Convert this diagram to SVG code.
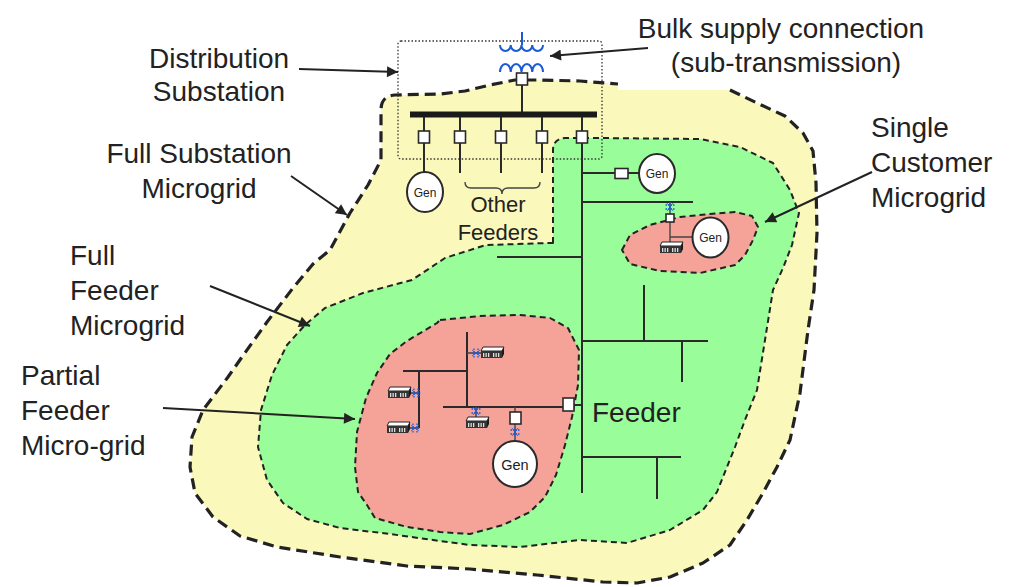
<svg xmlns="http://www.w3.org/2000/svg" xmlns:xlink="http://www.w3.org/1999/xlink" width="1027" height="587" viewBox="0 0 1027 587">
<style>
.lbl{font-family:"Liberation Sans",Arial,sans-serif;font-size:28px;fill:#222}
.sm{font-size:22px}
.mid{text-anchor:middle}
.gen{font-family:"Liberation Sans",Arial,sans-serif;fill:#222;text-anchor:middle}
.w{fill:none;stroke:#2a2a2a;stroke-width:2}
.thin{fill:none;stroke:#444;stroke-width:1.4}
.box{fill:#fff;stroke:#2a2a2a;stroke-width:1.6}
.circ{fill:#fff;stroke:#2a2a2a;stroke-width:2}
.arr{fill:none;stroke:#222;stroke-width:2;marker-end:url(#ah)}
.blue{fill:none;stroke:#1a5ad6;stroke-width:2}
</style>
<defs>
<marker id="ah" viewBox="0 0 10 10" refX="10" refY="5" markerWidth="15" markerHeight="11" markerUnits="userSpaceOnUse" orient="auto">
<path d="M0,0 L10,5 L0,10 Z" fill="#222"/>
</marker>
<g id="bldg">
<path d="M3,0 H24 L22,4 H1 Z" fill="#fff" stroke="#222" stroke-width="1"/>
<rect x="1" y="4" width="21" height="7" fill="#333"/>
<path d="M22,4 L24,0 V7 L22,11 Z" fill="#1a1a1a"/>
<g fill="#ddd"><rect x="3" y="6" width="1.3" height="4"/><rect x="5.5" y="6" width="1.3" height="4"/><rect x="8" y="6" width="1.3" height="4"/><rect x="13" y="6" width="1.3" height="4"/><rect x="15.5" y="6" width="1.3" height="4"/><rect x="18" y="6" width="1.3" height="4"/></g>
</g>
<g id="xf" fill="none" stroke="#1a5ad6" stroke-width="1.3">
<path d="M-4.5,-2 H4.5 M-4.5,2 H4.5" stroke-dasharray="1.5 1"/>
<path d="M0,-4.5 V4.5 M-3,-4 L3,4 M3,-4 L-3,4" stroke-width="0.8"/>
</g>
</defs>

<g id="full-substation-microgrid">
<path d="M730,90 L757,103 785,116 803,133 813,151 816,183 817,233 814,290 808,330 800,393 790,440 777,467 763,493 747,520 730,545 703,563 670,577 637,583 603,582 537,575 470,569 407,566 340,557 277,547 240,536 213,517 195,493 190,467 192,437 203,410 228,377 242,357 267,322 293,288 313,264 330,250 350,213 368,185 381,160 381,110 Q381,96 395,95 L440,94 465,91 490,85 515,80 540,80 580,81 618,84 618,90 Z" fill="#faf8bb"/>
<path d="M730,90 L757,103 785,116 803,133 813,151 816,183 817,233 814,290 808,330 800,393 790,440 777,467 763,493 747,520 730,545 703,563 670,577 637,583 603,582 537,575 470,569 407,566 340,557 277,547 240,536 213,517 195,493 190,467 192,437 203,410 228,377 242,357 267,322 293,288 313,264 330,250 350,213 368,185 381,160 381,110 Q381,96 395,95 L440,94 465,91 490,85 515,80 540,80 580,81 618,84" fill="none" stroke="#222" stroke-width="3.2" stroke-dasharray="11 6" stroke-linejoin="round"/>
</g>

<g id="full-feeder-microgrid">
<path d="M553,243 L553,150 Q553,139 565,138 L600,138 700,139 740,147 773,163 790,190 799,213 792,245 783,268 773,290 765,340 757,390 745,420 735,447 727,467 717,492 703,510 670,530 627,543 580,540 520,547 470,545 440,541 390,534 340,528 307,519 283,503 267,480 258,447 261,410 272,375 287,345 305,325 325,308 363,293 412,280 445,258 486,245 549,243 Z" fill="#99fd99" stroke="#222" stroke-width="2" stroke-dasharray="6 4" stroke-linejoin="round"/>
</g>

<g id="partial-feeder-microgrid">
<path d="M440,320 L480,316 520,315 550,318 568,328 579,350 578,385 572,417 565,445 556,475 545,497 530,512 503,525 470,534 440,532 407,527 375,518 367,505 358,492 355,467 357,432 366,398 377,373 390,354 407,341 437,323 Z" fill="#f5a399" stroke="#222" stroke-width="2" stroke-dasharray="6 4" stroke-linejoin="round"/>
</g>

<g id="single-customer-microgrid">
<path d="M622,250 L630,235 650,225 680,217 710,214 735,212 752,216 758,227 753,240 745,255 735,265 700,273 660,271 630,264 Z" fill="#f5a399" stroke="#222" stroke-width="2" stroke-dasharray="6 4" stroke-linejoin="round"/>
</g>

<g id="distribution-substation">
<rect x="398" y="41" width="204" height="118" rx="3" fill="none" stroke="#333" stroke-width="1.3" stroke-dasharray="1.5 2"/>
<path class="blue" d="M522,32 V45"/>
<path class="blue" d="M500,45 a5.375,6 0 0 0 10.75,0 a5.375,6 0 0 0 10.75,0 a5.375,6 0 0 0 10.75,0 a5.375,6 0 0 0 10.75,0"/>
<path class="blue" d="M500,72 a5.375,8 0 0 1 10.75,0 a5.375,8 0 0 1 10.75,0 a5.375,8 0 0 1 10.75,0 a5.375,8 0 0 1 10.75,0"/>
<path class="w" d="M522,85 V113"/>
<rect class="box" x="516.5" y="73" width="11" height="12"/>
<rect x="410" y="111.5" width="187" height="6" fill="#1a1a1a"/>
<path class="w" d="M424,117 V172 M460,117 V173 M501,117 V173 M542,117 V173"/>
<rect class="box" x="418.5" y="131" width="11" height="12"/>
<rect class="box" x="454.5" y="131" width="11" height="12"/>
<rect class="box" x="495.5" y="131" width="11" height="12"/>
<rect class="box" x="536.5" y="131" width="11" height="12"/>
</g>

<g id="substation-gen">
<ellipse class="circ" cx="425" cy="192" rx="18" ry="20"/>
<text class="gen" x="425" y="196.5" font-size="12">Gen</text>
</g>

<g id="other-feeders">
<path class="thin" d="M465,182 Q465,188 471,188 L496,188 Q502,188 502,194 Q502,188 508,188 L534,188 Q540,188 540,182" stroke="#333" stroke-width="1.6"/>
<text class="lbl sm mid" x="498" y="212">Other</text>
<text class="lbl sm mid" x="498" y="240">Feeders</text>
</g>

<g id="feeder">
<path class="w" d="M582,117 V493"/>
<rect class="box" x="576.5" y="131" width="11" height="12"/>
<path class="w" d="M583,173 H639"/>
<rect class="box" x="615" y="168.5" width="13" height="10"/>
<ellipse class="circ" cx="657" cy="173.5" rx="18" ry="19.5"/>
<text class="gen" x="657" y="178" font-size="12">Gen</text>
<path class="w" d="M583,202 H693"/>
<path class="w" d="M497,257 H583"/>
<path class="w" d="M583,341 H708 M644,285 V341 M682,341 V382"/>
<path class="w" d="M583,457 H681 M657,457 V499"/>
<path class="w" d="M568,405 H583"/>
<text class="lbl" x="592" y="422">Feeder</text>
</g>

<g id="single-customer">
<path class="thin" d="M670,202 V244 M670,237 H693"/>
<use xlink:href="#xf" href="#xf" transform="translate(670,207)"/>
<rect class="box" x="666" y="214" width="8" height="8" stroke-width="1.2"/>
<use xlink:href="#bldg" href="#bldg" transform="translate(659,242)"/>
<ellipse class="circ" cx="710.5" cy="237.5" rx="18" ry="20"/>
<text class="gen" x="710.5" y="242" font-size="12">Gen</text>
</g>

<g id="partial-feeder">
<path class="w" d="M443,407 H568 M467,332 V407 M403,371 H467 M419,371 V428"/>
<rect class="box" x="563" y="398" width="11" height="13"/>
<path class="thin" d="M467,353 H481 M410,393 H419 M410,428 H419 M476,407 V418 M515,407 V441"/>
<use xlink:href="#xf" href="#xf" transform="translate(476,353) rotate(90)"/>
<use xlink:href="#xf" href="#xf" transform="translate(416,393) rotate(90)"/>
<use xlink:href="#xf" href="#xf" transform="translate(415,428) rotate(90)"/>
<use xlink:href="#xf" href="#xf" transform="translate(476,411)"/>
<use xlink:href="#bldg" href="#bldg" transform="translate(480,347)"/>
<use xlink:href="#bldg" href="#bldg" transform="translate(387,387)"/>
<use xlink:href="#bldg" href="#bldg" transform="translate(386,422)"/>
<use xlink:href="#bldg" href="#bldg" transform="translate(465,417)"/>
<rect class="box" x="510" y="412" width="11" height="12"/>
<use xlink:href="#xf" href="#xf" transform="translate(515,432)"/>
<ellipse class="circ" cx="515" cy="464" rx="22" ry="23"/>
<text class="gen" x="515" y="469.5" font-size="14.5">Gen</text>
</g>

<g id="labels">
<text class="lbl mid" x="219" y="68">Distribution</text>
<text class="lbl mid" x="219" y="101">Substation</text>
<text class="lbl mid" x="199" y="163">Full Substation</text>
<text class="lbl mid" x="199" y="198">Microgrid</text>
<text class="lbl" x="70" y="265">Full</text>
<text class="lbl" x="70" y="300">Feeder</text>
<text class="lbl" x="70" y="335">Microgrid</text>
<text class="lbl" x="21" y="385">Partial</text>
<text class="lbl" x="21" y="420">Feeder</text>
<text class="lbl" x="21" y="455">Micro-grid</text>
<text class="lbl mid" x="781" y="38">Bulk supply connection</text>
<text class="lbl mid" x="786" y="72">(sub-transmission)</text>
<text class="lbl" x="871" y="137">Single</text>
<text class="lbl" x="871" y="172">Customer</text>
<text class="lbl" x="871" y="207">Microgrid</text>
</g>

<g id="connectors">
<path class="arr" d="M299,69 L398,72"/>
<path class="arr" d="M291,176 L347,215"/>
<path class="arr" d="M210,286 L310,326"/>
<path class="arr" d="M163,408 L355,419"/>
<path class="arr" d="M648,48 L550,56"/>
<path class="arr" d="M872,172 L765,222"/>
</g>
</svg>
